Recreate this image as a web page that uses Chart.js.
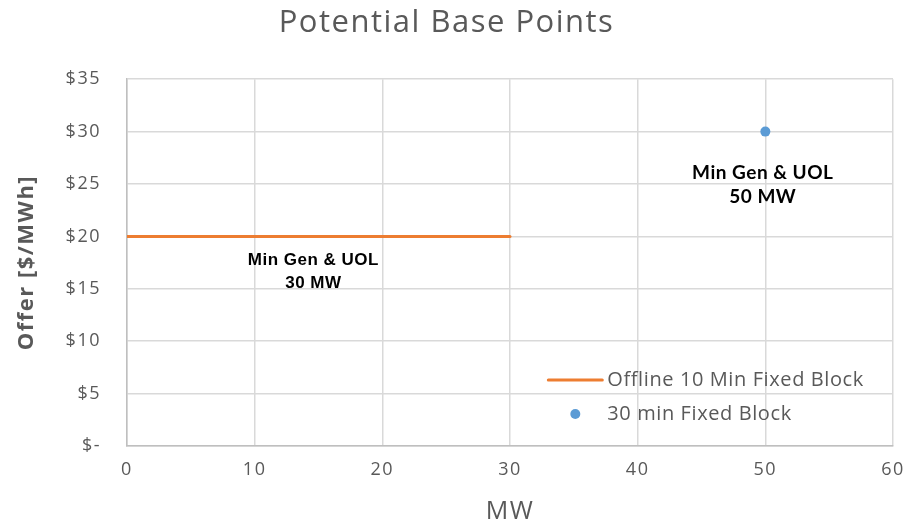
<!DOCTYPE html>
<html><head><meta charset="utf-8">
<script src="https://cdn.jsdelivr.net/npm/chart.js@4/dist/chart.umd.min.js"></script>
<style>html,body{margin:0;padding:0;background:#fff}#wrap{width:912px;height:521px}</style>
</head><body><div id="wrap"><canvas id="c" width="912" height="521"></canvas></div>
<script>
const offlineX = [0, 30];
const offlineY = [20, 20];
const fixed30X = [50];
const fixed30Y = [30];
const seriesNames = ['Offline 10 Min Fixed Block', '30 min Fixed Block'];
const annotations = [
  {x: 14.6, y: 17.7, text: 'Min Gen & UOL'},
  {x: 14.6, y: 15.5, text: '30 MW'},
  {x: 49.8, y: 26.1, text: 'Min Gen & UOL'},
  {x: 49.8, y: 23.8, text: '50 MW'}
];
const xTicks = [0,10,20,30,40,50,60];
const yTicks = [0,5,10,15,20,25,30,35];

const grey = '#595959';
const spacingPlugin = {
  id: 'spacing',
  beforeInit(chart) { chart.ctx.letterSpacing = '1.5px'; },
  beforeDraw(chart) { chart.ctx.letterSpacing = '1.5px'; }
};
const annPlugin = {
  id: 'ann',
  afterDatasetsDraw(chart) {
    const {ctx, scales:{x,y}} = chart;
    ctx.save();
    ctx.textAlign = 'center'; ctx.textBaseline = 'middle'; ctx.fillStyle = '#000';
    annotations.forEach((a,i) => {
      if (i < 2) { ctx.font = 'bold 17px "Liberation Sans"'; ctx.letterSpacing = '0.5px'; }
      else { ctx.font = 'bold 19px Lato'; ctx.letterSpacing = '0.5px'; }
      ctx.fillText(a.text, x.getPixelForValue(a.x), y.getPixelForValue(a.y));
    });
    // legend
    const lx = x.getPixelForValue(33), ly1 = y.getPixelForValue(6.3), ly2 = y.getPixelForValue(3.05);
    const ds = chart.data.datasets;
    ctx.strokeStyle = ds[0].borderColor; ctx.lineWidth = 3; ctx.lineCap = 'round';
    ctx.beginPath(); ctx.moveTo(lx, ly1); ctx.lineTo(lx+54, ly1); ctx.stroke();
    ctx.fillStyle = ds[1].backgroundColor;
    ctx.beginPath(); ctx.arc(lx+27, ly2, 5, 0, Math.PI*2); ctx.fill();
    ctx.fillStyle = grey; ctx.font = '20px "Open Sans"'; ctx.textAlign = 'left'; ctx.letterSpacing = '0.6px';
    ctx.fillText(seriesNames[0], lx+59, ly1);
    ctx.fillText(seriesNames[1], lx+59, ly2);
    ctx.restore();
    ctx.letterSpacing = '1.5px';
  }
};

new Chart(document.getElementById('c'), {
  type: 'scatter',
  data: {
    datasets: [
      {label: seriesNames[0], data: offlineX.map((v,i)=>({x:v,y:offlineY[i]})), showLine: true,
       borderColor: '#ed7d31', backgroundColor: '#ed7d31', borderWidth: 3, pointRadius: 0, borderCapStyle: 'round'},
      {label: seriesNames[1], data: fixed30X.map((v,i)=>({x:v,y:fixed30Y[i]})), showLine: false,
       borderColor: '#5b9bd5', backgroundColor: '#5b9bd5', pointRadius: 5, borderWidth: 0}
    ]
  },
  options: {
    responsive: false, animation: false,
    layout: {padding: {left: 0, right: 19, bottom: 0, top: 0}},
    plugins: {
      legend: {display: false},
      tooltip: {enabled: false},
      title: {display: true, text: 'Potential Base Points', color: grey,
        font: {family: 'Open Sans', size: 31, weight: 'normal'}, padding: {top: 5, bottom: 37}}
    },
    scales: {
      x: {type: 'linear', min: 0, max: 60,
        afterBuildTicks: s => { s.ticks = xTicks.map(v=>({value:v})); },
        ticks: {color: grey, font: {family: 'Open Sans', size: 18}, padding: 13},
        grid: {color: '#d9d9d9', drawTicks: false, lineWidth: 1.5},
        border: {color: '#bfbfbf', width: 1.5},
        title: {display: true, text: 'MW', color: grey, font: {family: 'Open Sans', size: 25, lineHeight: 0.75}, padding: 0},
        afterFit: s => { s.height = 75; s.paddingRight = 0; s.paddingLeft = 0; }
      },
      y: {type: 'linear', min: 0, max: 35,
        afterBuildTicks: s => { s.ticks = yTicks.map(v=>({value:v})); },
        ticks: {color: grey, font: {family: 'Open Sans', size: 18}, padding: 26,
          callback: v => v === 0 ? '$-' : '$' + v},
        grid: {color: '#d9d9d9', drawTicks: false, lineWidth: 1.5},
        border: {color: '#bfbfbf', width: 1.5},
        title: {display: true, text: 'Offer [$/MWh]', color: grey, font: {family: 'Open Sans', size: 22, weight: 'bold'}, padding: 14},
        afterFit: s => { s.width = 127; }
      }
    }
  },
  plugins: [spacingPlugin, annPlugin]
});
</script></body></html>
